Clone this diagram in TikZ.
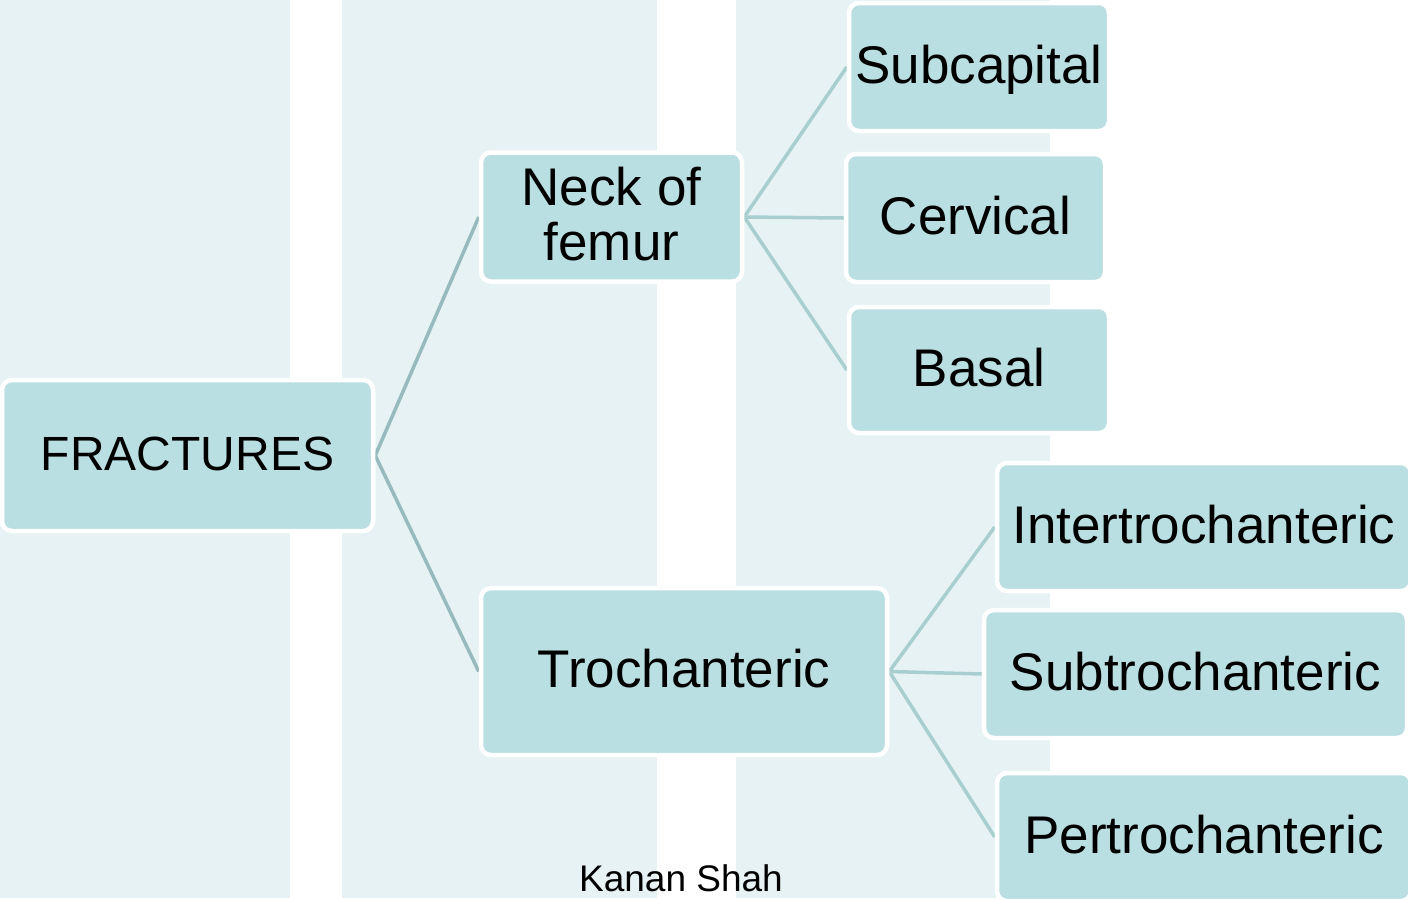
\documentclass[tikz,border=0pt]{standalone}
\usepackage{fontspec}
\setmainfont{Liberation Sans}
\pgfdeclarelayer{bands}
\pgfdeclarelayer{edges}
\pgfsetlayers{bands,edges,main}
\definecolor{bandc}{RGB}{231,242,244}
\definecolor{boxc}{RGB}{186,223,226}
\definecolor{lineA}{RGB}{150,186,189}
\definecolor{lineB}{RGB}{168,206,208}
\tikzset{
  box/.style={draw=white, line width=4.5pt, fill=boxc, rounded corners=10pt,
    inner sep=0pt, text height=32pt, text depth=0pt,
    font=\fontsize{53}{55}\selectfont},
  sz/.style 2 args={minimum width=#1pt, minimum height=#2pt},
  linkA/.style={draw=lineA, line width=3.5pt},
  linkB/.style={draw=lineB, line width=3.5pt},
  band/.style={fill=bandc, draw=none}
}
\begin{document}
\begin{tikzpicture}[x=1pt, y=-1pt]
\useasboundingbox (0,0) rectangle (1408,898);
\clip (0,0) rectangle (1408,898);
\begin{pgfonlayer}{bands}
  \fill[band] (0,0) rectangle (290,898);
  \fill[band] (342,0) rectangle (657,898);
  \fill[band] (736,0) rectangle (1050,898);
\end{pgfonlayer}

\node[box, sz={371}{151}, text height=29pt, font=\fontsize{48}{50}\selectfont] (fr) at (187.5,455.5) {FRACTURES};
\node[box, sz={261}{129}, align=center, text height=87pt, text depth=0pt] (neck) at (611.5,217) {Neck of\\femur};
\node[box, sz={406}{167}] (troch) at (684,671.5) {Trochanteric};

\node[box, sz={260}{128}] (subcap) at (979,67) {Subcapital};
\node[box, sz={259}{128}] (cerv) at (975.5,218) {Cervical};
\node[box, sz={260}{126}] (basal) at (979,370) {Basal};

\node[box, sz={414}{128}] (inter) at (1204,527) {Intertrochanteric};
\node[box, sz={423}{128}] (subtr) at (1195.5,674) {Subtrochanteric};
\node[box, sz={414}{128}] (pert) at (1204,837) {Pertrochanteric};

\node[font=\fontsize{37}{40}\selectfont, anchor=base, inner sep=0pt] (author) at (681,891) {Kanan Shah};

\begin{pgfonlayer}{edges}
  \draw[linkA] (fr.east) -- (neck.west);
  \draw[linkA] (fr.east) -- (troch.west);
  \draw[linkB] (neck.east) -- (subcap.west);
  \draw[linkB] (neck.east) -- (cerv.west);
  \draw[linkB] (neck.east) -- (basal.west);
  \draw[linkB] (troch.east) -- (inter.west);
  \draw[linkB] (troch.east) -- (subtr.west);
  \draw[linkB] (troch.east) -- (pert.west);
\end{pgfonlayer}
\end{tikzpicture}
\end{document}
